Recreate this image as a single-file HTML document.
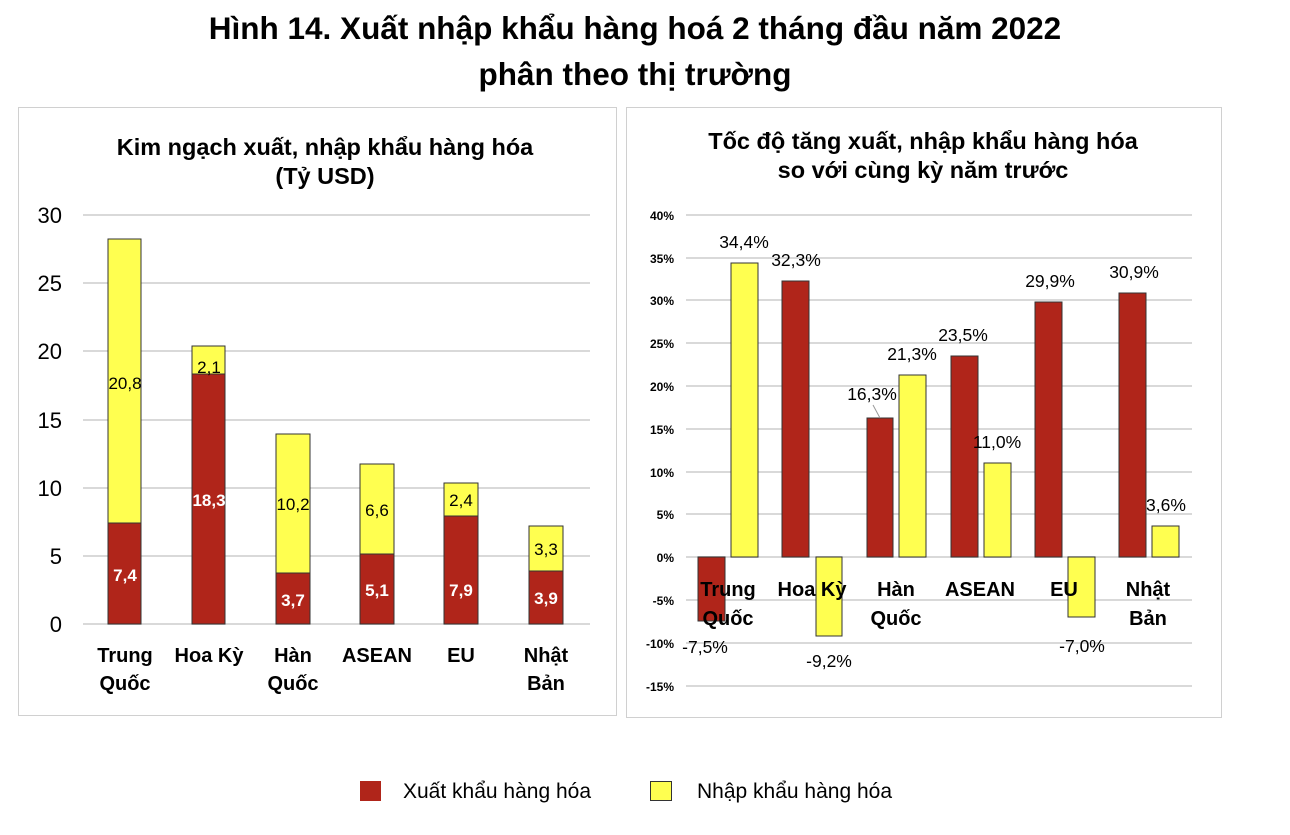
<!DOCTYPE html>
<html><head><meta charset="utf-8"><style>
body{margin:0;background:#fff;width:1290px;height:830px;overflow:hidden;font-family:"Liberation Sans",Arial,sans-serif}
</style></head><body>
<svg width="1290" height="830" xmlns="http://www.w3.org/2000/svg" font-family="Liberation Sans, Arial, sans-serif">
<text x="635" y="39" font-size="31.5" font-weight="bold" text-anchor="middle">Hình 14. Xuất nhập khẩu hàng hoá 2 tháng đầu năm 2022</text>
<text x="635" y="85" font-size="31.5" font-weight="bold" text-anchor="middle">phân theo thị trường</text>
<rect x="18.5" y="107.5" width="598" height="608" fill="none" stroke="#d0d0d0"/>
<rect x="626.5" y="107.5" width="595" height="610" fill="none" stroke="#d0d0d0"/>
<text x="325" y="155" font-size="23.5" font-weight="bold" text-anchor="middle">Kim ngạch xuất, nhập khẩu hàng hóa</text>
<text x="325" y="184" font-size="23.5" font-weight="bold" text-anchor="middle">(Tỷ USD)</text>
<g stroke="#d9d9d9" stroke-width="2">
<line x1="83" x2="590" y1="215" y2="215"/><line x1="83" x2="590" y1="283" y2="283"/><line x1="83" x2="590" y1="351" y2="351"/><line x1="83" x2="590" y1="420" y2="420"/><line x1="83" x2="590" y1="488" y2="488"/><line x1="83" x2="590" y1="556" y2="556"/><line x1="83" x2="590" y1="624" y2="624"/>
</g>
<g font-size="22" text-anchor="end">
<text x="62" y="223">30</text><text x="62" y="291">25</text><text x="62" y="359">20</text><text x="62" y="428">15</text><text x="62" y="496">10</text><text x="62" y="564">5</text><text x="62" y="632">0</text>
</g>
<g stroke="#333" stroke-width="1">
<rect x="108" y="523" width="33" height="101" fill="#b0251a"/><rect x="108" y="239" width="33" height="284" fill="#ffff50"/>
<rect x="192" y="374" width="33" height="250" fill="#b0251a"/><rect x="192" y="346" width="33" height="28" fill="#ffff50"/>
<rect x="276" y="573" width="34" height="51" fill="#b0251a"/><rect x="276" y="434" width="34" height="139" fill="#ffff50"/>
<rect x="360" y="554" width="34" height="70" fill="#b0251a"/><rect x="360" y="464" width="34" height="90" fill="#ffff50"/>
<rect x="444" y="516" width="34" height="108" fill="#b0251a"/><rect x="444" y="483" width="34" height="33" fill="#ffff50"/>
<rect x="529" y="571" width="34" height="53" fill="#b0251a"/><rect x="529" y="526" width="34" height="45" fill="#ffff50"/>
</g>
<g font-size="17" text-anchor="middle">
<text x="125" y="389">20,8</text><text x="209" y="373">2,1</text><text x="293" y="510">10,2</text><text x="377" y="516">6,6</text><text x="461" y="506">2,4</text><text x="546" y="555">3,3</text>
</g>
<g font-size="17" font-weight="bold" fill="#fff" text-anchor="middle">
<text x="125" y="581">7,4</text><text x="209" y="506">18,3</text><text x="293" y="606">3,7</text><text x="377" y="596">5,1</text><text x="461" y="596">7,9</text><text x="546" y="604">3,9</text>
</g>
<g font-size="20" font-weight="bold" text-anchor="middle">
<text x="125" y="662">Trung</text><text x="125" y="690">Quốc</text><text x="209" y="662">Hoa Kỳ</text><text x="293" y="662">Hàn</text><text x="293" y="690">Quốc</text><text x="377" y="662">ASEAN</text><text x="461" y="662">EU</text><text x="546" y="662">Nhật</text><text x="546" y="690">Bản</text>
</g>
<text x="923" y="149" font-size="23.5" font-weight="bold" text-anchor="middle">Tốc độ tăng xuất, nhập khẩu hàng hóa</text>
<text x="923" y="178" font-size="23.5" font-weight="bold" text-anchor="middle">so với cùng kỳ năm trước</text>
<g stroke="#d9d9d9" stroke-width="2">
<line x1="686" x2="1192" y1="215" y2="215"/><line x1="686" x2="1192" y1="258" y2="258"/><line x1="686" x2="1192" y1="300" y2="300"/><line x1="686" x2="1192" y1="343" y2="343"/><line x1="686" x2="1192" y1="386" y2="386"/><line x1="686" x2="1192" y1="429" y2="429"/><line x1="686" x2="1192" y1="472" y2="472"/><line x1="686" x2="1192" y1="514" y2="514"/><line x1="686" x2="1192" y1="557" y2="557"/><line x1="686" x2="1192" y1="600" y2="600"/><line x1="686" x2="1192" y1="643" y2="643"/><line x1="686" x2="1192" y1="686" y2="686"/>
</g>
<g font-size="12" font-weight="bold" text-anchor="end">
<text x="674" y="220">40%</text><text x="674" y="263">35%</text><text x="674" y="305">30%</text><text x="674" y="348">25%</text><text x="674" y="391">20%</text><text x="674" y="434">15%</text><text x="674" y="477">10%</text><text x="674" y="519">5%</text><text x="674" y="562">0%</text><text x="674" y="605">-5%</text><text x="674" y="648">-10%</text><text x="674" y="691">-15%</text>
</g>
<g stroke="#333" stroke-width="1">
<rect x="698" y="557" width="27" height="64" fill="#b0251a"/><rect x="731" y="263" width="27" height="294" fill="#ffff50"/>
<rect x="782" y="281" width="27" height="276" fill="#b0251a"/><rect x="816" y="557" width="26" height="79" fill="#ffff50"/>
<rect x="867" y="418" width="26" height="139" fill="#b0251a"/><rect x="899" y="375" width="27" height="182" fill="#ffff50"/>
<rect x="951" y="356" width="27" height="201" fill="#b0251a"/><rect x="984" y="463" width="27" height="94" fill="#ffff50"/>
<rect x="1035" y="302" width="27" height="255" fill="#b0251a"/><rect x="1068" y="557" width="27" height="60" fill="#ffff50"/>
<rect x="1119" y="293" width="27" height="264" fill="#b0251a"/><rect x="1152" y="526" width="27" height="31" fill="#ffff50"/>
</g>
<line x1="873" y1="405" x2="880" y2="418" stroke="#999" stroke-width="1"/>
<g font-size="17.5" text-anchor="middle">
<text x="744" y="248">34,4%</text><text x="796" y="266">32,3%</text><text x="872" y="400">16,3%</text><text x="912" y="360">21,3%</text><text x="963" y="341">23,5%</text><text x="997" y="448">11,0%</text><text x="1050" y="287">29,9%</text><text x="1134" y="278">30,9%</text><text x="1166" y="511">3,6%</text>
<text x="705" y="653">-7,5%</text><text x="829" y="667">-9,2%</text><text x="1082" y="652">-7,0%</text>
</g>
<g font-size="20" font-weight="bold" text-anchor="middle">
<text x="728" y="596">Trung</text><text x="728" y="625">Quốc</text><text x="812" y="596">Hoa Kỳ</text><text x="896" y="596">Hàn</text><text x="896" y="625">Quốc</text><text x="980" y="596">ASEAN</text><text x="1064" y="596">EU</text><text x="1148" y="596">Nhật</text><text x="1148" y="625">Bản</text>
</g>
<rect x="360" y="781" width="21" height="20" fill="#b0251a"/>
<text x="403" y="798" font-size="21" >Xuất khẩu hàng hóa</text>
<rect x="650.5" y="781.5" width="21" height="19" fill="#ffff50" stroke="#333"/>
<text x="697" y="798" font-size="21">Nhập khẩu hàng hóa</text>
</svg>
</body></html>
